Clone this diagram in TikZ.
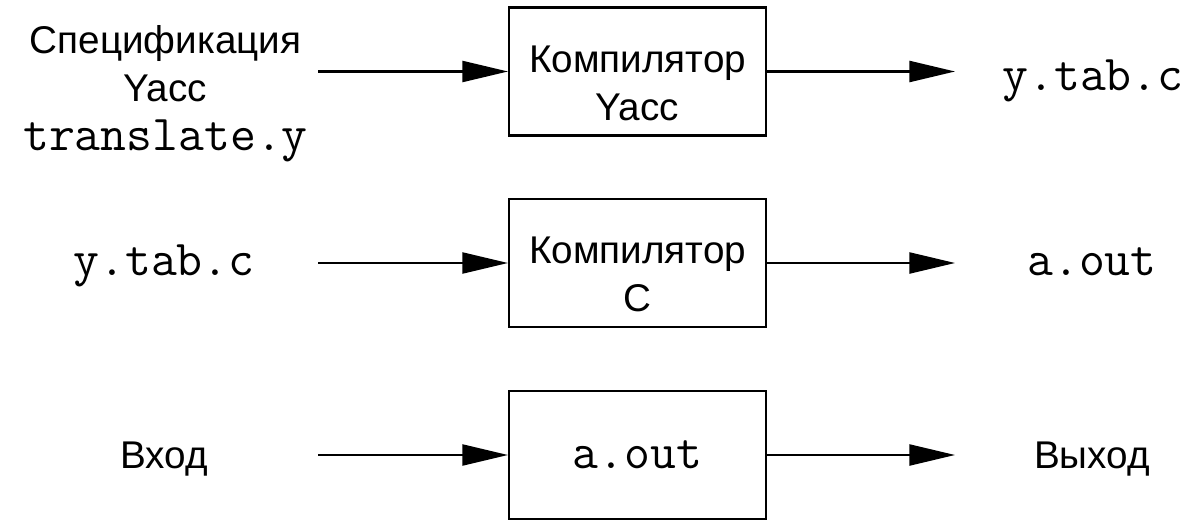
\documentclass[tikz,border=0pt]{standalone}
\usepackage{fontspec}
\setmainfont{Liberation Sans}
\setsansfont{Liberation Sans}
\usetikzlibrary{arrows.meta}

% extra room above the first line of a box
\newcommand{\topgap}{\rule{0pt}{1cm}}

\begin{document}
\begin{tikzpicture}[>={Triangle[length=26pt,width=12pt]},
  block/.style={draw, line width=1.2pt, minimum width=5.14cm, minimum height=2.56cm,
    inner ysep=0pt, align=center, font=\fontsize{22}{27.5}\selectfont},
  lbl/.style={inner sep=0pt, font=\fontsize{22}{27.5}\selectfont},
  code/.style={inner sep=0pt, font=\fontsize{28.6}{27.5}\selectfont\ttfamily},
  flow/.style={->, line width=1.2pt}]
  \useasboundingbox (0,0) rectangle (23.86,10.44);

  % the three stages
  \node[block] (yacc) at (12.75,9.01) {\topgap Компилятор\\Yacc};
  \node[block] (cc)   at (12.75,5.18) {\topgap Компилятор\\C};
  \node[block, font=\fontsize{28.6}{27.5}\selectfont\ttfamily] (run) at (12.75,1.34) {a.out};

  % inputs
  \node[lbl, align=center, anchor=north] (spec) at (3.31,9.94)
    {Спецификация\\Yacc\\{\ttfamily\fontsize{28.6}{27.5}\selectfont translate.y}};
  \node[code, anchor=base] (ytab)  at (3.28,4.94) {y.tab.c};
  \node[lbl,  anchor=base] (input) at (3.28,1.08) {Вход};

  % outputs
  \node[code, anchor=base] (ytabout) at (21.86,8.64) {y.tab.c};
  \node[code, anchor=base] (aout)    at (21.84,4.94) {a.out};
  \node[lbl,  anchor=base] (output)  at (21.84,1.08) {Выход};

  % arrow ends
  \coordinate (in1) at (6.36,9.01);
  \coordinate (in2) at (6.36,5.18);
  \coordinate (in3) at (6.36,1.34);
  \coordinate (out1) at (19.1,9.01);
  \coordinate (out2) at (19.1,5.18);
  \coordinate (out3) at (19.1,1.34);

  \draw[flow] (in1) -- (yacc);
  \draw[flow] (in2) -- (cc);
  \draw[flow] (in3) -- (run);
  \draw[flow] (yacc) -- (out1);
  \draw[flow] (cc) -- (out2);
  \draw[flow] (run) -- (out3);
\end{tikzpicture}
\end{document}
